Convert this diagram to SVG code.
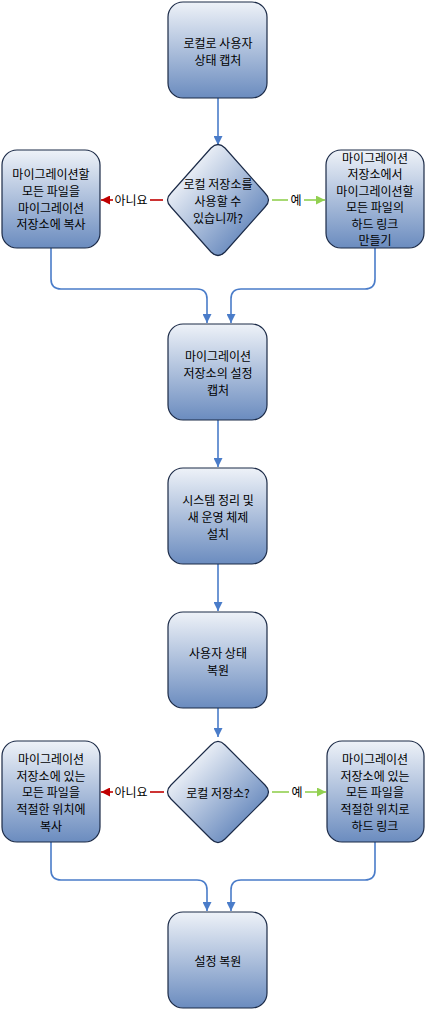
<svg xmlns="http://www.w3.org/2000/svg" width="425" height="1010" viewBox="0 0 425 1010">
<defs>
<linearGradient id="gBox" x1="0" y1="0" x2="0" y2="1">
<stop offset="0" stop-color="#eef2f8"/>
<stop offset="1" stop-color="#6b8cbf"/>
</linearGradient>
<linearGradient id="gDia" x1="0.2" y1="0.2" x2="0.8" y2="0.8">
<stop offset="0" stop-color="#eef2f8"/>
<stop offset="1" stop-color="#6b8cbf"/>
</linearGradient>
<marker id="aBlue" viewBox="0 0 10 10" refX="10" refY="5" markerWidth="9" markerHeight="9" markerUnits="userSpaceOnUse" orient="auto"><path d="M0,0 L10,5 L0,10 z" fill="#4a7cc9"/></marker>
<marker id="aRed" viewBox="0 0 10 10" refX="10" refY="5" markerWidth="9" markerHeight="9" markerUnits="userSpaceOnUse" orient="auto"><path d="M0,0 L10,5 L0,10 z" fill="#c00000"/></marker>
<marker id="aGreen" viewBox="0 0 10 10" refX="10" refY="5" markerWidth="9" markerHeight="9" markerUnits="userSpaceOnUse" orient="auto"><path d="M0,0 L10,5 L0,10 z" fill="#92d050"/></marker>
</defs>
<style>
.box{fill:url(#gBox);stroke:#1b2a47;stroke-width:1.2}
.dia{fill:url(#gDia);stroke:#1b2a47;stroke-width:1.2}
text{font-family:"Noto Sans CJK KR","Noto Sans",sans-serif;font-size:12px;fill:#000;text-anchor:middle;dominant-baseline:central}
.c{fill:none;stroke:#4a7cc9;stroke-width:1.6;marker-end:url(#aBlue)}
.r{fill:none;stroke:#c00000;stroke-width:1.6}
.g{fill:none;stroke:#92d050;stroke-width:1.6}
</style>
<g id="connectors">
<path class="c" d="M218,98 L218,145"/>
<path class="r" d="M163,200 L150,200"/>
<path class="r" d="M113,200 L101,200" marker-end="url(#aRed)"/>
<text x="131" y="199">아니요</text>
<path class="g" d="M272,200 L288,200"/>
<path class="g" d="M304,200 L325,200" marker-end="url(#aGreen)"/>
<text x="296" y="199">예</text>
<path class="c" d="M51,248 L51,279 Q51,289 61,289 L197,289 Q207,289 207,299 L207,323"/>
<path class="c" d="M375,248 L375,279 Q375,289 365,289 L241,289 Q231,289 231,299 L231,323"/>
<path class="c" d="M218,420 L218,467"/>
<path class="c" d="M218,564 L218,611"/>
<path class="c" d="M218,708 L218,737"/>
<path class="r" d="M164,792 L150,792"/>
<path class="r" d="M113,792 L101,792" marker-end="url(#aRed)"/>
<text x="131" y="791">아니요</text>
<path class="g" d="M272,792 L289,792"/>
<path class="g" d="M305,792 L326,792" marker-end="url(#aGreen)"/>
<text x="297" y="791">예</text>
<path class="c" d="M51,842 L51,870 Q51,880 61,880 L197,880 Q207,880 207,890 L207,911"/>
<path class="c" d="M375,842 L375,870 Q375,880 365,880 L241,880 Q231,880 231,890 L231,911"/>
</g>
<g id="n1"><rect class="box" x="168" y="2" width="99" height="96" rx="15"/><text x="218" y="42">로컬로 사용자</text><text x="218" y="59">상태 캡처</text></g>
<g id="d1"><path class="dia" d="M211,148 Q218,141 225,148 L265,193 Q272,200 265,207 L225,252 Q218,259 211,252 L171,207 Q164,200 171,193 Z"/><text x="218" y="183">로컬 저장소를</text><text x="218" y="200">사용할 수</text><text x="218" y="217">있습니까?</text></g>
<g id="n2"><rect class="box" x="2" y="150" width="98" height="98" rx="15"/><text x="51" y="173">마이그레이션할</text><text x="51" y="190">모든 파일을</text><text x="51" y="207">마이그레이션</text><text x="51" y="223">저장소에 복사</text></g>
<g id="n3"><rect class="box" x="326" y="150" width="98" height="98" rx="15"/><text x="375" y="157">마이그레이션</text><text x="375" y="173">저장소에서</text><text x="375" y="190">마이그레이션할</text><text x="375" y="206">모든 파일의</text><text x="375" y="223">하드 링크</text><text x="375" y="239">만들기</text></g>
<g id="n4"><rect class="box" x="168" y="324" width="99" height="96" rx="15"/><text x="218" y="355">마이그레이션</text><text x="218" y="372">저장소의 설정</text><text x="218" y="389">캡처</text></g>
<g id="n5"><rect class="box" x="168" y="468" width="99" height="96" rx="15"/><text x="218" y="499">시스템 정리 및</text><text x="218" y="516">새 운영 체제</text><text x="218" y="533">설치</text></g>
<g id="n6"><rect class="box" x="168" y="612" width="99" height="96" rx="15"/><text x="218" y="652">사용자 상태</text><text x="218" y="669">복원</text></g>
<g id="d2"><path class="dia" d="M211,745 Q218,738 225,745 L265,785 Q272,792 265,799 L225,839 Q218,846 211,839 L171,799 Q164,792 171,785 Z"/><text x="218" y="792">로컬 저장소?</text></g>
<g id="n7"><rect class="box" x="2" y="741" width="98" height="101" rx="15"/><text x="51" y="758">마이그레이션</text><text x="51" y="775">저장소에 있는</text><text x="51" y="791">모든 파일을</text><text x="51" y="808">적절한 위치에</text><text x="51" y="825">복사</text></g>
<g id="n8"><rect class="box" x="327" y="741" width="97" height="101" rx="15"/><text x="375" y="758">마이그레이션</text><text x="375" y="775">저장소에 있는</text><text x="375" y="791">모든 파일을</text><text x="375" y="808">적절한 위치로</text><text x="375" y="825">하드 링크</text></g>
<g id="n9"><rect class="box" x="168" y="912" width="99" height="96" rx="15"/><text x="218" y="960">설정 복원</text></g>
</svg>
